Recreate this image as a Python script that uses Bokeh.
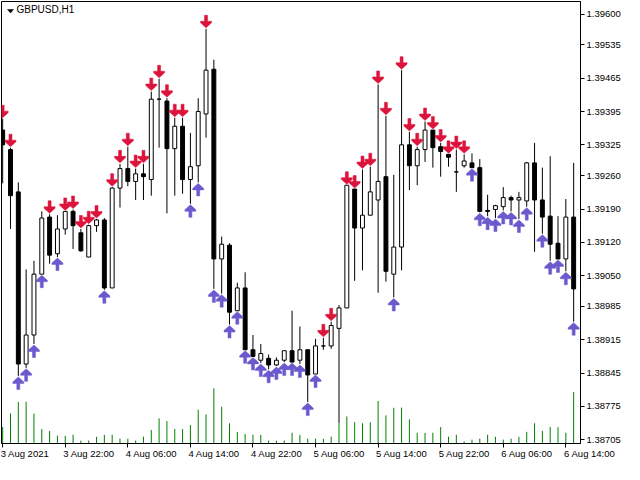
from bokeh.plotting import figure
from bokeh.models import Range1d, FixedTicker, Label, LinearAxis
from bokeh.embed import file_html
from bokeh.resources import INLINE

# ---------------- data ----------------
symbol_caption = "GBPUSD,H1"

open_ = [
    1.39356, 1.39315, 1.39226, 1.38864, 1.38925, 1.39053, 1.39173, 1.39096, 1.39148, 1.39185,
    1.39140, 1.39089, 1.39155, 1.39167, 1.39024, 1.39234, 1.39275, 1.39248, 1.39264, 1.39252,
    1.39421, 1.39417, 1.39317, 1.39364, 1.39252, 1.39281, 1.39390, 1.39484, 1.39085, 1.39114,
    1.38976, 1.39024, 1.38894, 1.38872, 1.38876, 1.38862, 1.38872, 1.38892, 1.38872, 1.38894,
    1.38843, 1.38902, 1.38902, 1.38939, 1.38982, 1.39232, 1.39150, 1.39177, 1.39209, 1.39258,
    1.39053, 1.39110, 1.39325, 1.39281, 1.39315, 1.39356, 1.39321, 1.39305, 1.39268, 1.39281,
    1.39287, 1.39277, 1.39187, 1.39189, 1.39195, 1.39214, 1.39209, 1.39207, 1.39287, 1.39209,
    1.39175, 1.39118, 1.39085, 1.39173]

high = [
    1.39380, 1.39319, 1.39246, 1.39063, 1.39081, 1.39185, 1.39179, 1.39177, 1.39185, 1.39189,
    1.39148, 1.39157, 1.39169, 1.39171, 1.39236, 1.39285, 1.39321, 1.39275, 1.39285, 1.39437,
    1.39464, 1.39423, 1.39382, 1.39382, 1.39350, 1.39423, 1.39569, 1.39504, 1.39132, 1.39118,
    1.39035, 1.39057, 1.38925, 1.38906, 1.38884, 1.38878, 1.38892, 1.38976, 1.38943, 1.38894,
    1.38917, 1.38919, 1.38953, 1.38988, 1.39240, 1.39232, 1.39273, 1.39279, 1.39452, 1.39386,
    1.39262, 1.39482, 1.39352, 1.39321, 1.39374, 1.39356, 1.39329, 1.39305, 1.39315, 1.39305,
    1.39307, 1.39295, 1.39220, 1.39199, 1.39236, 1.39218, 1.39226, 1.39289, 1.39329, 1.39277,
    1.39301, 1.39175, 1.39211, 1.39287]

low = [
    1.39244, 1.39148, 1.38839, 1.38856, 1.38906, 1.39053, 1.39075, 1.39089, 1.39136, 1.39106,
    1.39100, 1.39089, 1.39142, 1.39020, 1.39024, 1.39193, 1.39238, 1.39209, 1.39209, 1.39218,
    1.39319, 1.39181, 1.39218, 1.39222, 1.39201, 1.39246, 1.39340, 1.39022, 1.39012, 1.38947,
    1.38976, 1.38894, 1.38880, 1.38866, 1.38853, 1.38860, 1.38868, 1.38868, 1.38864, 1.38784,
    1.38843, 1.38894, 1.38896, 1.38740, 1.38982, 1.39039, 1.39061, 1.39177, 1.39014, 1.39037,
    1.39004, 1.39061, 1.39230, 1.39240, 1.39289, 1.39277, 1.39258, 1.39279, 1.39226, 1.39277,
    1.39277, 1.39183, 1.39175, 1.39171, 1.39187, 1.39185, 1.39169, 1.39195, 1.39100, 1.39138,
    1.39081, 1.39085, 1.39059, 1.38953]

close = [
    1.39325, 1.39218, 1.38864, 1.38925, 1.39053, 1.39171, 1.39093, 1.39148, 1.39185, 1.39155,
    1.39102, 1.39155, 1.39167, 1.39024, 1.39234, 1.39275, 1.39248, 1.39264, 1.39258, 1.39421,
    1.39421, 1.39317, 1.39364, 1.39252, 1.39279, 1.39395, 1.39482, 1.39085, 1.39116, 1.38973,
    1.39024, 1.38894, 1.38880, 1.38886, 1.38862, 1.38872, 1.38892, 1.38868, 1.38894, 1.38841,
    1.38902, 1.38902, 1.38945, 1.38982, 1.39240, 1.39150, 1.39177, 1.39226, 1.39248, 1.39059,
    1.39110, 1.39325, 1.39281, 1.39315, 1.39356, 1.39319, 1.39311, 1.39299, 1.39268, 1.39291,
    1.39277, 1.39185, 1.39185, 1.39197, 1.39214, 1.39209, 1.39214, 1.39287, 1.39209, 1.39173,
    1.39116, 1.39085, 1.39173, 1.39022]

tick_volume = [
    512, 934, 1287, 1296, 928, 447, 386, 243, 238, 271,
    88, 93, 207, 268, 273, 152, 147, 91, 213, 418,
    781, 694, 452, 447, 573, 1049, 903, 1712, 1138, 627,
    361, 298, 272, 266, 92, 87, 94, 334, 268, 149,
    153, 146, 211, 633, 838, 662, 627, 658, 1318, 872,
    1107, 1114, 748, 331, 327, 334, 508, 212, 269, 63,
    118, 152, 271, 209, 121, 148, 207, 362, 628, 393,
    511, 507, 332, 1593]

# bars carrying a sell (down) arrow above the high / a buy (up) arrow below the low
sell_signal_bars = [0, 1, 6, 8, 9, 10, 11, 12, 14, 15, 16, 17, 18, 19, 20, 21, 22, 23, 26,
                    41, 42, 44, 45, 46, 47, 48, 49, 51, 52, 53, 54, 55, 56, 57, 58, 59]
buy_signal_bars = [2, 3, 4, 5, 7, 13, 24, 25, 27, 28, 29, 30, 31, 32, 33, 34, 35, 36, 37, 38,
                   39, 40, 50, 60, 61, 62, 63, 64, 65, 66, 67, 69, 70, 71, 72, 73]

time_tick_bars = [0, 8, 16, 24, 32, 40, 48, 56, 64, 72]
time_tick_labels = ["3 Aug 2021", "3 Aug 22:00", "4 Aug 06:00", "4 Aug 14:00", "4 Aug 22:00",
                    "5 Aug 06:00", "5 Aug 14:00", "5 Aug 22:00", "6 Aug 06:00", "6 Aug 14:00"]

price_ticks = [1.39600, 1.39535, 1.39465, 1.39395, 1.39325, 1.39260, 1.39190,
               1.39120, 1.39050, 1.38985, 1.38915, 1.38845, 1.38775, 1.38705]
price_tick_labels = ["1.39600", "1.39535", "1.39465", "1.39395", "1.39325", "1.39260", "1.39190",
                     "1.39120", "1.39050", "1.38985", "1.38915", "1.38845", "1.38775", "1.38705"]

# ---------------- layout / style ----------------
W, H = 624, 464
BL, BT, BR, BB = 1, 1, 44, 21
FW, FH = W - BL - BR, H - BT - BB
X0, X1 = -0.15, 73.875
Y0, Y1 = 1.3869685, 1.396264
VOL_TOP = 13710
FONT = "Liberation Sans"
FONT_PX = 9.5
RED = "#DC143C"
BLUE = "#6A5ACD"

p = figure(width=W, height=H, output_backend="svg", toolbar_location=None,
           x_range=Range1d(X0, X1), y_range=Range1d(Y0, Y1),
           y_axis_location="right", tools="")
p.min_border_left = BL
p.min_border_top = BT
p.min_border_right = BR
p.min_border_bottom = BB
p.background_fill_color = "white"
p.border_fill_color = "white"
p.outline_line_color = "black"
p.outline_line_width = 1
p.xgrid.visible = False
p.ygrid.visible = False
p.extra_y_ranges = {"vol": Range1d(0, VOL_TOP)}

n = len(open_)
xs = list(range(n))

# volumes
p.segment(x0=xs, y0=[0] * n, x1=xs, y1=tick_volume, y_range_name="vol",
          line_color="#008000", line_width=1)

# wicks
p.segment(x0=xs, y0=low, x1=xs, y1=high, line_color="black", line_width=1)

# bodies
bull = [i for i in xs if close[i] >= open_[i]]
bear = [i for i in xs if close[i] < open_[i]]
BODY = 0.5
p.vbar(x=bull, width=BODY, bottom=[open_[i] for i in bull], top=[close[i] for i in bull],
       fill_color="white", line_color="black", line_width=1)
p.vbar(x=bear, width=BODY, bottom=[close[i] for i in bear], top=[open_[i] for i in bear],
       fill_color="black", line_color="black", line_width=1)

# arrows (shape in screen pixels, converted to data units)
dx = (X1 - X0) / FW
dy = (Y1 - Y0) / FH
shape = [(0, 0), (-5.5, 5), (-5.5, 6.5), (-1.5, 6.5), (-1.5, 12.5),
         (1.5, 12.5), (1.5, 6.5), (5.5, 6.5), (5.5, 5)]
GAP = 1.0
sx = [[i + a * dx for a, b in shape] for i in sell_signal_bars]
sy = [[high[i] + (GAP + b) * dy for a, b in shape] for i in sell_signal_bars]
bx = [[i + a * dx for a, b in shape] for i in buy_signal_bars]
by = [[low[i] - (GAP + b) * dy for a, b in shape] for i in buy_signal_bars]
p.patches(sx, sy, fill_color=RED, line_color=RED, line_width=0.5)
p.patches(bx, by, fill_color=BLUE, line_color=BLUE, line_width=0.5)

# price axis (right)
ya = p.yaxis[0]
ya.ticker = FixedTicker(ticks=price_ticks)
ya.major_label_overrides = {t: l for t, l in zip(price_ticks, price_tick_labels)}
ya.major_tick_out = 4
ya.major_tick_in = 0
ya.minor_tick_line_color = None
ya.major_label_standoff = 2
ya.axis_line_color = "black"
ya.major_tick_line_color = "black"
ya.major_label_text_font = FONT
ya.major_label_text_font_size = f"{FONT_PX}px"
ya.major_label_text_color = "black"

# time axis: tick marks only
xa = p.xaxis[0]
xa.ticker = FixedTicker(ticks=time_tick_bars)
xa.major_label_overrides = {b: "" for b in time_tick_bars}
xa.major_tick_out = 4
xa.major_tick_in = 0
xa.minor_tick_line_color = None
xa.axis_line_color = "black"
xa.major_tick_line_color = "black"
xa.major_label_standoff = 0
xa.major_label_text_font_size = "1px"

# time labels: left-aligned just after each tick (MetaTrader style),
# drawn by a second, line-less axis whose label centres are shifted right
char_w = {" ": 0.278, ":": 0.278, "A": 0.667, "\u00a0": 0.278}
def text_px(s):
    return sum(char_w.get(c, 0.556) for c in s) * FONT_PX

px_per_bar = FW / (X1 - X0)
space_px = 0.278 * FONT_PX
label_pos, label_txt = [], []
for b, l in zip(time_tick_bars, time_tick_labels):
    w = text_px(l)
    start_px = (b - X0) * px_per_bar - 2          # wanted left edge of the text
    centre = X0 + (start_px + w / 2) / px_per_bar
    if centre < X1:
        label_pos.append(centre)
        label_txt.append(l)
    else:
        # keep the tick inside the range and push the text right with padding
        edge = X1 - 1e-6
        k = max(0, round((start_px - FW + w / 2) * 2 / space_px))
        label_pos.append(edge)
        label_txt.append("\u00a0" * k + l)

xa2 = LinearAxis(ticker=FixedTicker(ticks=label_pos),
                 major_label_overrides={pos: l for pos, l in zip(label_pos, label_txt)})
xa2.major_tick_out = 0
xa2.major_tick_in = 0
xa2.minor_tick_line_color = None
xa2.axis_line_color = None
xa2.major_tick_line_color = None
xa2.major_label_standoff = 0
xa2.major_label_text_font = FONT
xa2.major_label_text_font_size = f"{FONT_PX}px"
xa2.major_label_text_color = "black"
p.add_layout(xa2, "below")

# caption with small triangle
tri_px = [(6, 8), (12, 8), (9, 11.5)]
p.patch([X0 + a * dx for a, b in tri_px], [Y1 - b * dy for a, b in tri_px],
        fill_color="black", line_color="black", line_width=0.5)
p.add_layout(Label(x=15, y=FH - 2.5, x_units="screen", y_units="screen",
                   text=symbol_caption, text_align="left", text_baseline="top",
                   text_font=FONT, text_font_size="10px", text_color="black"))

open("out.html", "w").write(file_html(p, INLINE))
